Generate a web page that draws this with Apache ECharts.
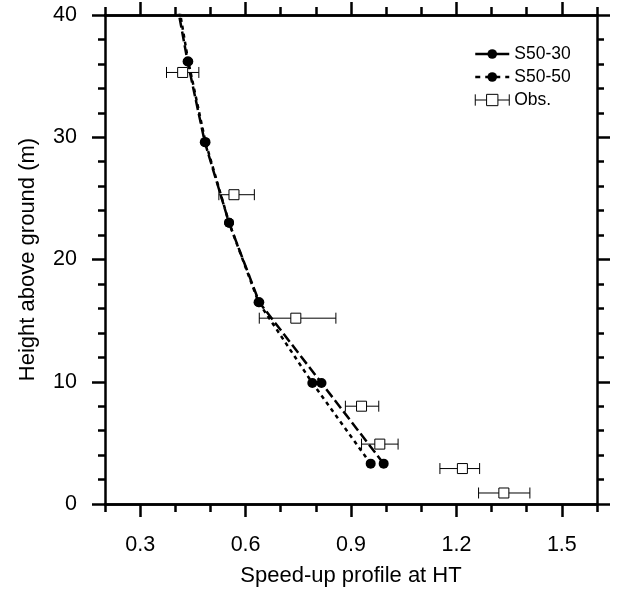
<!DOCTYPE html>
<html>
<head>
<meta charset="utf-8">
<script src="https://cdn.jsdelivr.net/npm/echarts@6/dist/echarts.min.js"></script>
<style>html,body{margin:0;padding:0;background:#fff}#c{width:622px;height:592px}</style>
</head>
<body>
<div id="c"></div>
<script>
// Data
const heightsModel = [3.3, 9.9, 16.5, 23.0, 29.6, 36.2, 42.8];
const s5030 = [0.993, 0.816, 0.639, 0.553, 0.484, 0.435, 0.393];
const s5050 = [0.956, 0.790, 0.637, 0.553, 0.486, 0.437, 0.398];
const obsHeight = [35.3, 25.3, 15.2, 8.0, 4.9, 2.9, 0.9];
const obsMean = [0.421, 0.567, 0.743, 0.930, 0.982, 1.217, 1.335];
const obsLow = [0.375, 0.524, 0.639, 0.884, 0.930, 1.153, 1.263];
const obsHigh = [0.467, 0.625, 0.857, 0.979, 1.034, 1.266, 1.409];
const xMajorTicks = [0.3, 0.6, 0.9, 1.2, 1.5];
const xMinorTicks = [0.2, 0.3, 0.4, 0.5, 0.6, 0.7, 0.8, 0.9, 1.0, 1.1, 1.2, 1.3, 1.4, 1.5, 1.6];

const FONT = 'Liberation Sans, Arial, sans-serif';
const lineData = (xs) => heightsModel.map((h, i) => [xs[i], h]);
const obsData = obsHeight.map((h, i) => [obsMean[i], h, obsLow[i], obsHigh[i]]);

const axisLine = {show: true, lineStyle: {color: '#000', width: 2.5}};
function xAx(pos, ticks, len, labels, extra) {
  return Object.assign({
    type: 'value', position: pos, min: 0.2, max: 1.6, gridIndex: 0,
    axisLine: axisLine, splitLine: {show: false},
    axisTick: {show: true, inside: false, length: len, customValues: ticks, lineStyle: {color: '#000', width: 2.5}},
    axisLabel: labels ? {show: true, customValues: xMajorTicks, margin: 30, fontSize: 21.5, fontFamily: FONT, color: '#000', formatter: v => v.toFixed(1)} : {show: false}
  }, extra || {});
}
function yAx(pos, labels, extra) {
  return Object.assign({
    type: 'value', position: pos, min: 0, max: 40, interval: 10,
    axisLine: axisLine, splitLine: {show: false}, minorSplitLine: {show: false},
    axisTick: {show: true, inside: false, length: 13, lineStyle: {color: '#000', width: 2.5}},
    minorTick: {show: true, splitNumber: 5, length: 7, lineStyle: {color: '#000', width: 2.5}},
    axisLabel: labels ? {show: true, margin: 28, fontSize: 21.5, fontFamily: FONT, color: '#000'} : {show: false}
  }, extra || {});
}

const obsIcon = 'path://M0,0 L0,10 M0,5 L10,5 M20,5 L30,5 M30,0 L30,10 M10,0 L20,0 L20,10 L10,10 Z';

const option = {
  animation: false,
  backgroundColor: '#fff',
  grid: {left: 105, right: 25, top: 15, bottom: 86, containLabel: false},
  xAxis: [
    xAx('bottom', xMajorTicks, 13, true, {name: 'Speed-up profile at HT', nameLocation: 'middle', nameGap: 61,
      nameTextStyle: {fontSize: 22, fontFamily: FONT, color: '#000'}}),
    xAx('bottom', xMinorTicks, 8, false),
    xAx('top', xMajorTicks, 13, false),
    xAx('top', xMinorTicks, 8, false)
  ],
  yAxis: [
    yAx('left', true, {name: 'Height above ground (m)', nameLocation: 'middle', nameGap: 66,
      nameTextStyle: {fontSize: 22, fontFamily: FONT, color: '#000'}}),
    yAx('right', false)
  ],
  legend: {
    orient: 'vertical', left: 469, top: 40, itemWidth: 34, itemHeight: 12, itemGap: 5,
    textStyle: {fontSize: 17.5, fontFamily: FONT, color: '#000'},
    data: [
      {name: 'S50-30', lineStyle: {type: 'solid', width: 2.5, color: '#000'}},
      {name: 'S50-50', lineStyle: {type: [5, 5], width: 2.5, color: '#000'}},
      {name: 'Obs.', icon: obsIcon, itemStyle: {color: '#fff', borderColor: '#000', borderWidth: 1}}
    ]
  },
  series: [
    {
      name: 'S50-30', type: 'line', xAxisIndex: 0, yAxisIndex: 0, data: lineData(s5030),
      clip: true, symbol: 'circle', symbolSize: 10, showSymbol: true,
      lineStyle: {color: '#000', width: 2.5, type: [10, 4]}, itemStyle: {color: '#000'}, z: 3
    },
    {
      name: 'S50-50', type: 'line', xAxisIndex: 0, yAxisIndex: 0, data: lineData(s5050),
      clip: true, symbol: 'circle', symbolSize: 10, showSymbol: true,
      lineStyle: {color: '#000', width: 2.5, type: [4, 4]}, itemStyle: {color: '#000'}, z: 3
    },
    {
      name: 'Obs.', type: 'custom', xAxisIndex: 0, yAxisIndex: 0, data: obsData, z: 4,
      itemStyle: {color: '#fff', borderColor: '#000'},
      encode: {x: 0, y: 1},
      renderItem: function (params, api) {
        const m = api.coord([api.value(0), api.value(1)]);
        const lo = api.coord([api.value(2), api.value(1)]);
        const hi = api.coord([api.value(3), api.value(1)]);
        const cap = 5.5, half = 5;
        const st = {stroke: '#000', lineWidth: 1, fill: null};
        return {
          type: 'group',
          children: [
            {type: 'line', shape: {x1: lo[0], y1: lo[1], x2: hi[0], y2: hi[1]}, style: st},
            {type: 'line', shape: {x1: lo[0], y1: lo[1] - cap, x2: lo[0], y2: lo[1] + cap}, style: st},
            {type: 'line', shape: {x1: hi[0], y1: hi[1] - cap, x2: hi[0], y2: hi[1] + cap}, style: st},
            {type: 'rect', shape: {x: m[0] - half, y: m[1] - half, width: 2 * half, height: 2 * half},
              style: {stroke: '#000', lineWidth: 1, fill: '#fff'}}
          ]
        };
      }
    }
  ]
};

const chart = echarts.init(document.getElementById('c'), null, {renderer: 'canvas'});
chart.setOption(option);
</script>
</body>
</html>
